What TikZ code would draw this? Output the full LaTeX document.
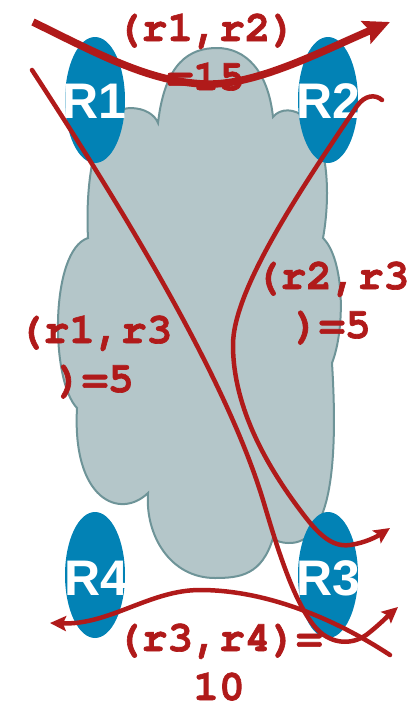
\documentclass[tikz,border=0pt]{standalone}
\usepackage{fontspec}
\usetikzlibrary{shapes.geometric,arrows.meta}
\newfontfamily\lblfont{texgyrecursor}[Extension=.otf, UprightFont=*-regular, BoldFont=*-bold, BoldFeatures={FakeBold=1.5}]
\newfontfamily\rtrfont{Liberation Sans}
\definecolor{linkred}{RGB}{176,26,26}
\definecolor{rtrblue}{RGB}{2,130,181}
\definecolor{cloudfill}{RGB}{180,198,201}
\definecolor{cloudedge}{RGB}{110,148,152}
\begin{document}
\begin{tikzpicture}[x=1pt,y=-1pt,
  router/.style={ellipse, fill=rtrblue, minimum width=60pt, minimum height=126pt, inner sep=0pt},
  rtext/.style={text=white, font=\rtrfont\bfseries\fontsize{50}{50}\selectfont, inner sep=0pt},
  linklbl/.style={text=linkred, font=\lblfont\bfseries\fontsize{43}{49}\selectfont, align=center, inner sep=0pt, anchor=base},
  link/.style={draw=linkred, line width=4.5pt, line cap=round, -{Stealth[length=16pt,width=15pt,inset=3pt]}},
  biglink/.style={draw=linkred, line width=7.5pt, -{Stealth[length=26pt,width=24pt,inset=4pt]}},
  cloudshape/.style={fill=cloudfill, draw=cloudedge, line width=2pt}]
\useasboundingbox (0,0) rectangle (411,707);
% cloud
\draw[cloudshape] (158,123) .. controls (165,62) and (190,48) .. (217,48)
  .. controls (245,48) and (268,70) .. (273,117)
  .. controls (280,108) and (295,108) .. (305,118)
  .. controls (330,140) and (330,200) .. (323,238)
  .. controls (345,260) and (345,330) .. (332,363)
  .. controls (338,460) and (332,545) .. (288,543)
  .. controls (282,543) and (276,541) .. (273,538)
  .. controls (262,575) and (240,578) .. (215,578)
  .. controls (170,578) and (145,535) .. (148,493)
  .. controls (120,520) and (72,500) .. (77,408)
  .. controls (50,380) and (50,250) .. (88,238)
  .. controls (85,180) and (95,110) .. (130,108)
  .. controls (145,108) and (155,115) .. (158,123) -- cycle;
% routers
\node[router] (r1) at (95,100) {};
\node[router] (r2) at (328,100) {};
\node[router] (r3) at (328,575) {};
\node[router] (r4) at (95,575) {};
\node[rtext] (r1t) at (94,101) {R1};
\node[rtext] (r2t) at (328,101) {R2};
\node[rtext] (r3t) at (328,578) {R3};
\node[rtext] (r4t) at (96,578) {R4};
% labels
\node[linklbl] (l12) at (206,90) {(r1,r2)\\=15};
\node[linklbl] (l23) at (332,338) {(r2,r3\\)=5};
\node[linklbl] (l13) at (95,392) {(r1,r3\\)=5};
\node[linklbl] (l34) at (219,700) {(r3,r4)=\\10};
% links
\draw[biglink] (33,22) .. controls (100,55) and (150,82) .. (205,84)
  .. controls (255,86) and (320,52) .. (390,22);
\draw[link] (32,70) .. controls (120,205) and (225,375) .. (263,500)
  .. controls (275,540) and (295,610) .. (320,632)
  .. controls (335,645) and (355,645) .. (370,632)
  .. controls (380,624) and (390,614) .. (398,607);
\draw[link] (382,100) .. controls (375,94) and (365,95) .. (357,106)
  .. controls (300,190) and (233,290) .. (233,345)
  .. controls (233,410) and (270,470) .. (300,510)
  .. controls (315,530) and (330,548) .. (350,545)
  .. controls (365,543) and (378,536) .. (390,528);
\draw[link] (390,655) .. controls (340,622) and (270,590) .. (200,590)
  .. controls (150,590) and (110,625) .. (50,623);
\end{tikzpicture}
\end{document}
